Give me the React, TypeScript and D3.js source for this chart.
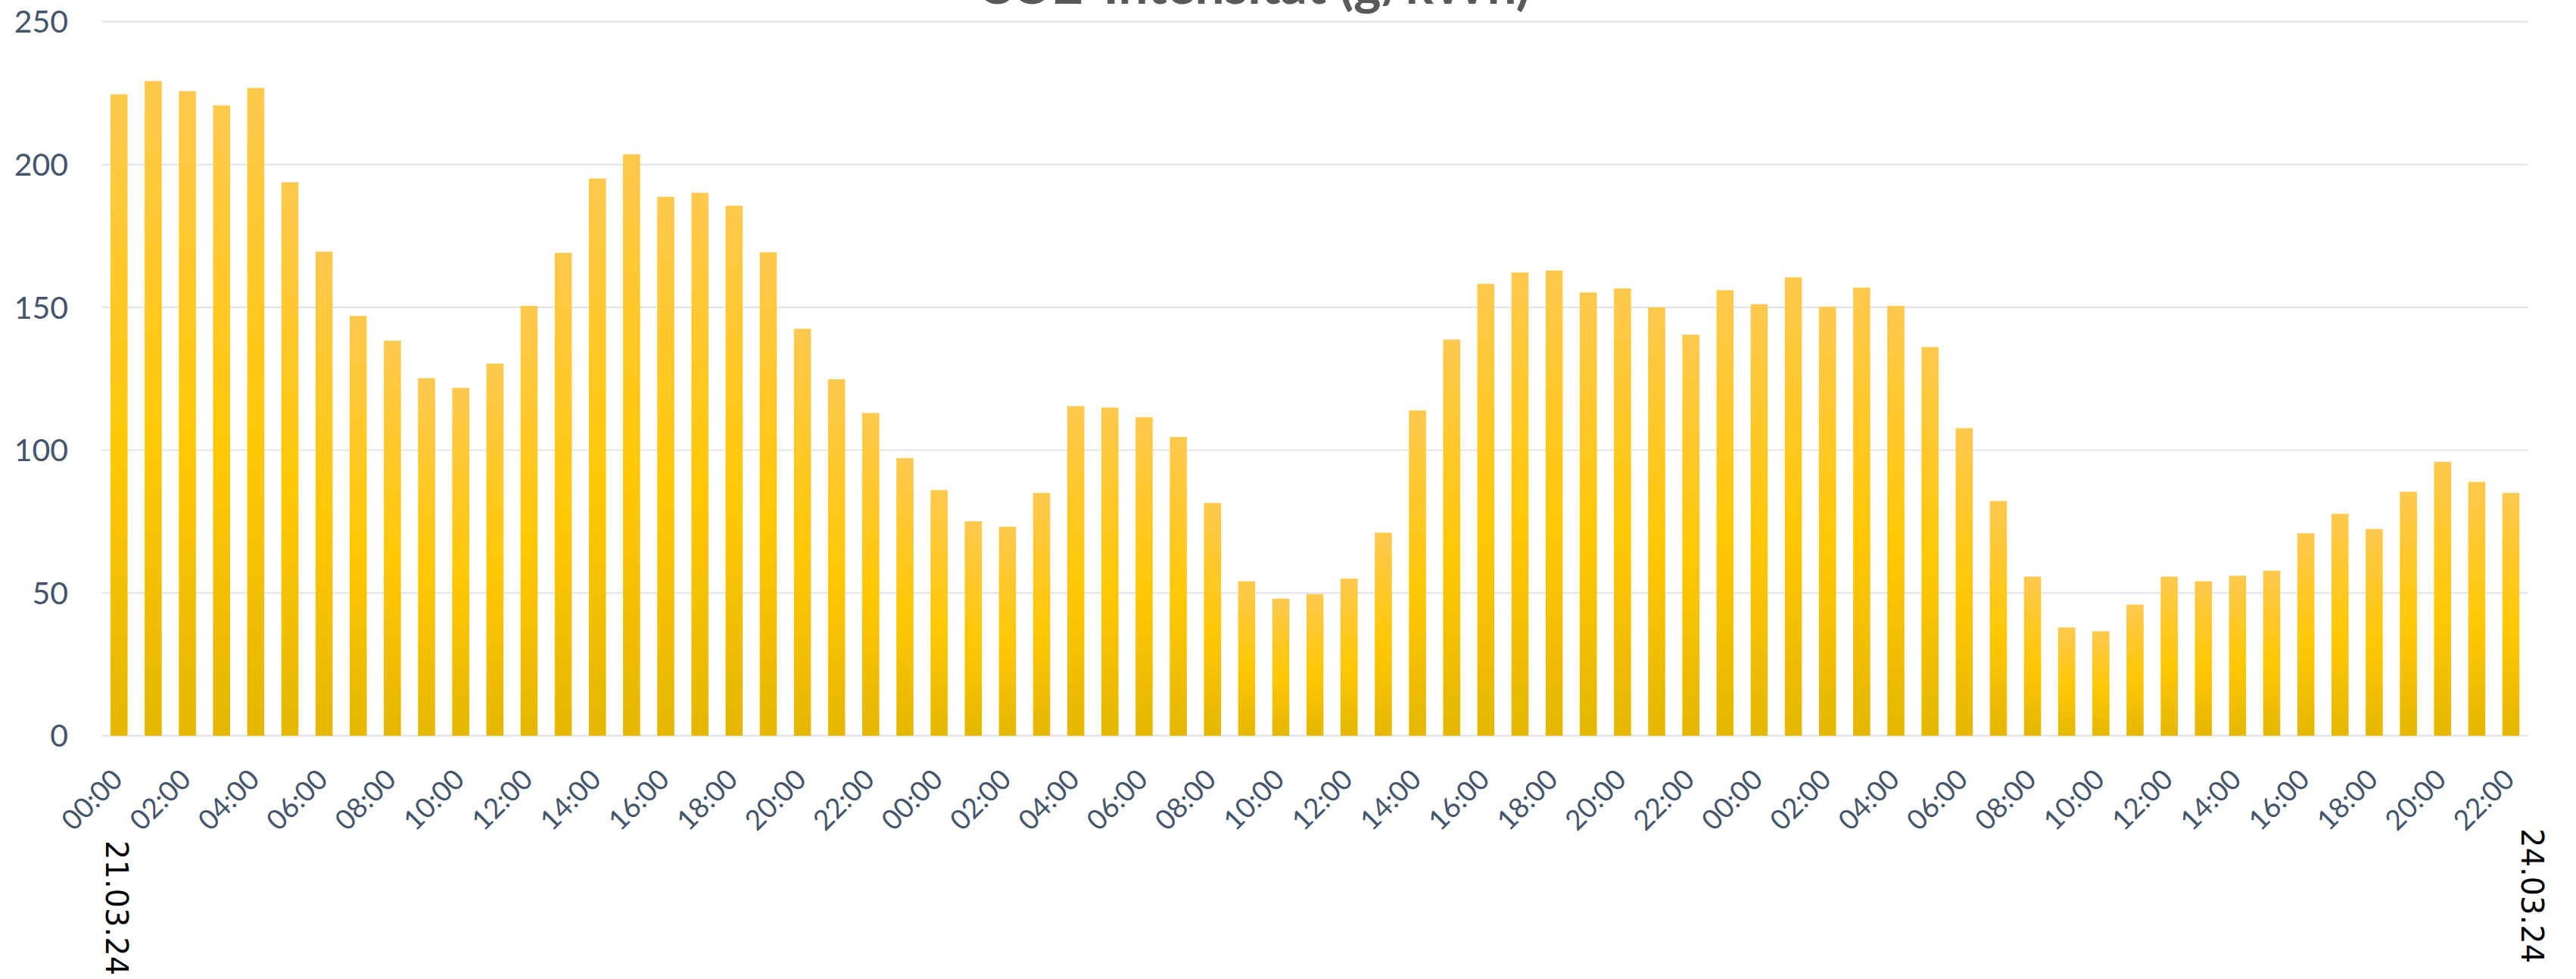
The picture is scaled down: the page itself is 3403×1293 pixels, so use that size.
import * as d3 from "d3";

// hourly CO2 intensity, g/kWh
const HOURS = [
  "00:00", "01:00", "02:00", "03:00", "04:00", "05:00", "06:00", "07:00",
  "08:00", "09:00", "10:00", "11:00", "12:00", "13:00", "14:00", "15:00",
  "16:00", "17:00", "18:00", "19:00", "20:00", "21:00", "22:00", "23:00",
];

const DAY1 = [
  224.6, 229.2, 225.7, 220.7, 226.8, 193.8, 169.5, 147, 138.3, 125.2, 121.8, 130.3,
  150.5, 169.1, 195.1, 203.6, 188.7, 190.1, 185.6, 169.3, 142.5, 124.8, 113, 97.2,
];
const DAY2 = [
  86, 75.1, 73.2, 85, 115.4, 114.9, 111.5, 104.6, 81.5, 54.1, 48, 49.6,
  55, 71.1, 113.9, 138.7, 158.2, 162.2, 162.9, 155.2, 156.6, 150, 140.4, 156,
];
const DAY3 = [
  151.1, 160.5, 150.2, 156.9, 150.5, 136.1, 107.7, 82.2, 55.7, 37.9, 36.6, 45.9,
  55.7, 54.1, 56, 57.8, 70.9, 77.7, 72.4, 85.4, 95.9, 88.9, 85,
];

const Y_TICKS = [0, 50, 100, 150, 200, 250];
const START_DATE = "21.03.24";
const END_DATE = "24.03.24";
const TITLE = "CO2-Intensität (g/kWh)";

const W = 3403;
const H = 1293;

const values = [...DAY1, ...DAY2, ...DAY3];
const data = values.map((v, i) => ({ i, hour: HOURS[i % 24], value: v }));

export default function App() {
  const x = d3
    .scaleBand<number>()
    .domain(data.map((d) => d.i))
    .range([134.7, 3339.6])
    .paddingInner(0.5)
    .paddingOuter(0.25);

  const y = d3.scaleLinear().domain([0, 250]).range([971.7, 28.7]);

  const axisColor = "#44546a";
  const gridColor = "#e1e5eb";

  return (
    <svg
      width={W}
      height={H}
      style={{ position: "absolute", left: 0, top: 0, background: "#fff" }}
    >
      <defs>
        <linearGradient id="barFill" x1="0" y1="0" x2="0" y2="1">
          <stop offset="0" stopColor="#ffc94f" />
          <stop offset="0.55" stopColor="#ffc805" />
          <stop offset="1" stopColor="#e5b700" />
        </linearGradient>
      </defs>

      <text
        x={1656}
        y={5}
        textAnchor="middle"
        fontFamily="Lato, sans-serif"
        fontWeight="bold"
        fontSize={70}
        fill="#595959"
        textLength={731}
        lengthAdjust="spacingAndGlyphs"
      >
        {TITLE}
      </text>

      {Y_TICKS.map((t) => (
        <g key={t}>
          <line
            x1={134.7}
            x2={3339.6}
            y1={y(t)}
            y2={y(t)}
            stroke={gridColor}
            strokeWidth={2.2}
          />
          <text
            x={90}
            y={y(t)}
            dy="0.36em"
            textAnchor="end"
            fontFamily="Lato, sans-serif"
            fontSize={41}
            fill={axisColor}
          >
            {t}
          </text>
        </g>
      ))}

      {data.map((d) => (
        <rect
          key={d.i}
          x={x(d.i)}
          y={y(d.value)}
          width={x.bandwidth()}
          height={y(0) - y(d.value)}
          fill="url(#barFill)"
        />
      ))}

      {data
        .filter((d) => d.i % 2 === 0)
        .map((d) => {
          const cx = (x(d.i) ?? 0) + x.bandwidth() / 2 + 7;
          return (
            <text
              key={d.i}
              transform={`translate(${cx},${y(0) + 60}) rotate(-45)`}
              textAnchor="end"
              fontFamily="Lato, sans-serif"
              fontSize={37}
              fill={axisColor}
            >
              {d.hour}
            </text>
          );
        })}

      <text
        transform="translate(140,1110) rotate(90)"
        fontFamily="DejaVu Sans, sans-serif"
        fontSize={40}
        fill="#000"
      >
        {START_DATE}
      </text>
      <text
        transform="translate(3331,1094) rotate(90)"
        fontFamily="DejaVu Sans, sans-serif"
        fontSize={40}
        fill="#000"
      >
        {END_DATE}
      </text>
    </svg>
  );
}
